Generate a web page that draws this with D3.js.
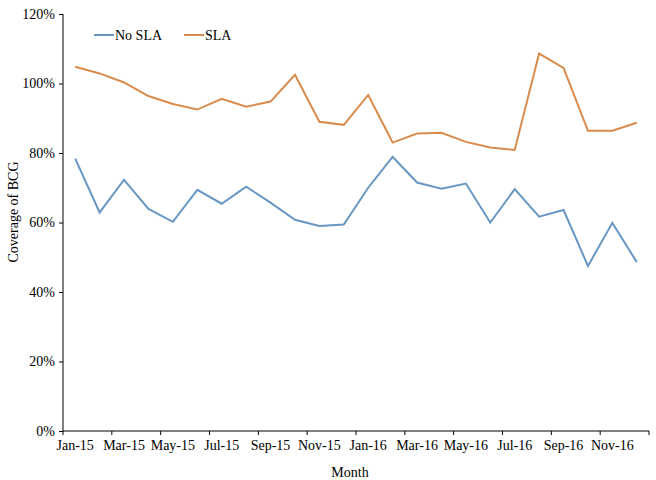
<!DOCTYPE html>
<html>
<head>
<meta charset="utf-8">
<script src="https://cdn.jsdelivr.net/npm/d3@7"></script>
<style>
  body { margin: 0; background: #fff; }
  text { font-family: "Liberation Serif", "Times New Roman", serif; fill: #000; }
</style>
</head>
<body>
<script>
// months shown on the x axis (one point per month)
var months = ["Jan-15","Feb-15","Mar-15","Apr-15","May-15","Jun-15","Jul-15","Aug-15","Sep-15","Oct-15","Nov-15","Dec-15",
              "Jan-16","Feb-16","Mar-16","Apr-16","May-16","Jun-16","Jul-16","Aug-16","Sep-16","Oct-16","Nov-16","Dec-16"];

// coverage of BCG, in percent
var noSla = [78.4, 62.9, 72.3, 63.9, 60.2, 69.4, 65.4, 70.3, 65.7, 60.8, 59.0, 59.4,
             70.0, 78.9, 71.5, 69.7, 71.2, 60.0, 69.6, 61.7, 63.6, 47.5, 59.9, 48.6];
var sla = [104.8, 102.9, 100.3, 96.4, 94.1, 92.5, 95.6, 93.3, 94.8, 102.5, 89.0, 88.1,
           96.7, 83.0, 85.6, 85.8, 83.2, 81.6, 80.9, 108.6, 104.5, 86.4, 86.4, 88.7];

var yTicks = [0, 20, 40, 60, 80, 100, 120];

var series = [
  {name: "No SLA", values: noSla, color: "#6897c3"},
  {name: "SLA", values: sla, color: "#d98b4c"}
];

var W = 656, H = 480;
var margin = {top: 14, right: 7, bottom: 49, left: 63};
var width = W - margin.left - margin.right,
    height = H - margin.top - margin.bottom;

var svg = d3.select("body").append("svg")
    .attr("width", W)
    .attr("height", H)
  .append("g")
    .attr("transform", "translate(" + margin.left + "," + margin.top + ")");

var x = d3.scaleBand().domain(months).range([0, width]).padding(0);
var y = d3.scaleLinear().domain([0, 120]).range([height, 0]);

// y axis
var yAxis = d3.axisLeft(y)
    .tickValues(yTicks)
    .tickSize(4)
    .tickPadding(4)
    .tickFormat(function(d) { return d + "%"; });

svg.append("g")
    .call(yAxis)
    .call(function(g) {
      g.select(".domain").attr("d", "M0," + height + "V0").attr("stroke", "#000");
      g.selectAll(".tick line").attr("stroke", "#000").attr("x2", -4);
      g.selectAll(".tick text").style("font-size", "14px").attr("font-family", null);
    });

// x axis: labels every other month, ticks between categories
var xg = svg.append("g").attr("transform", "translate(0," + height + ")");
xg.append("line")
    .attr("x1", 0).attr("x2", width)
    .attr("stroke", "#000");

var tickPos = d3.range(0, months.length + 1, 2);
xg.selectAll(".xtick")
    .data(tickPos)
  .enter().append("line")
    .attr("x1", function(d) { return d * x.bandwidth(); })
    .attr("x2", function(d) { return d * x.bandwidth(); })
    .attr("y1", 0).attr("y2", 4)
    .attr("stroke", "#000");

xg.selectAll(".xlabel")
    .data(months.filter(function(d, i) { return i % 2 == 0; }))
  .enter().append("text")
    .attr("x", function(d) { return x(d) + x.bandwidth() / 2; })
    .attr("y", 19)
    .style("text-anchor", "middle")
    .style("font-size", "14px")
    .text(function(d) { return d; });

// axis titles
svg.append("text")
    .attr("x", 287)
    .attr("y", height + 46)
    .style("text-anchor", "middle")
    .style("font-size", "14px")
    .text("Month");

svg.append("text")
    .attr("transform", "rotate(-90)")
    .attr("x", -198)
    .attr("y", -45)
    .style("text-anchor", "middle")
    .style("font-size", "14px")
    .text("Coverage of BCG");

// lines
var line = d3.line()
    .x(function(d, i) { return x(months[i]) + x.bandwidth() / 2; })
    .y(function(d) { return y(d); });

svg.selectAll(".series")
    .data(series)
  .enter().append("path")
    .attr("class", "series")
    .attr("fill", "none")
    .attr("stroke", function(d) { return d.color; })
    .attr("stroke-width", 2)
    .attr("stroke-linejoin", "miter")
    .attr("d", function(d) { return line(d.values); });

// legend
var legend = svg.selectAll(".legend")
    .data(series)
  .enter().append("g")
    .attr("class", "legend")
    .attr("transform", function(d, i) { return "translate(" + (31 + i * 90) + ",21)"; });

legend.append("line")
    .attr("x1", 0).attr("x2", 20)
    .attr("stroke", function(d) { return d.color; })
    .attr("stroke-width", 2);

legend.append("text")
    .attr("x", 21)
    .attr("dy", "0.35em")
    .style("font-size", "14px")
    .text(function(d) { return d.name; });
</script>
</body>
</html>
